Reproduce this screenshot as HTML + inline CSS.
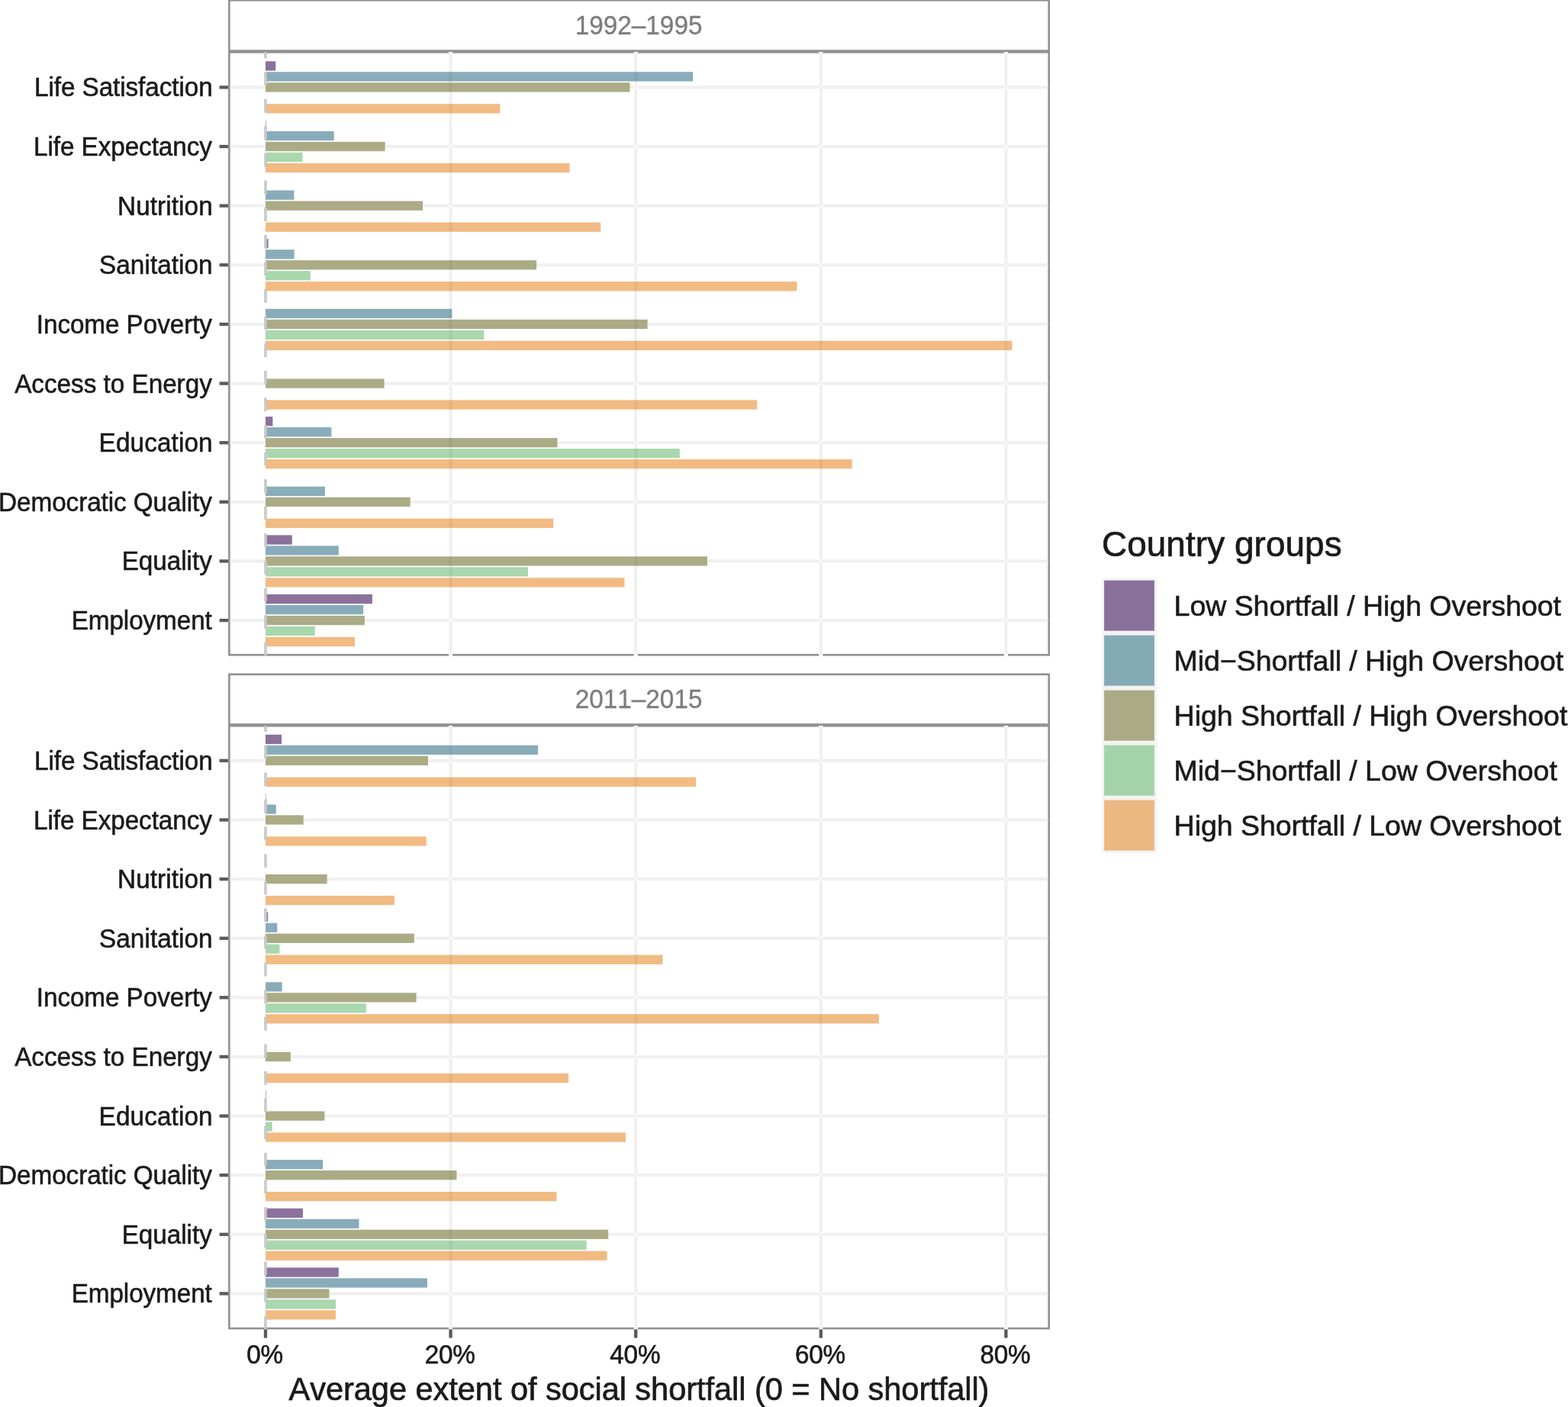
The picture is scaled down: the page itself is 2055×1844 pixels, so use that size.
<!DOCTYPE html>
<html lang="en"><head><meta charset="utf-8">
<title>Average extent of social shortfall by country group</title>
<style>
html,body{margin:0;padding:0;background:#fff;}
body{width:2055px;height:1844px;overflow:hidden;}
svg{display:block;}
text{font-family:"Liberation Sans", Arial, Helvetica, sans-serif;font-kerning:none;}
.ax{font-size:33.33px;fill:#1a1a1a;stroke:#1a1a1a;stroke-width:0.55px;letter-spacing:-0.1px;}
.st{font-size:33.33px;fill:#7d7d7d;stroke:#7d7d7d;stroke-width:0.3px;}
.at{font-size:41.67px;fill:#1a1a1a;stroke:#1a1a1a;stroke-width:0.65px;letter-spacing:-0.09px;}
.lt{font-size:45.83px;fill:#1a1a1a;stroke:#1a1a1a;stroke-width:0.7px;letter-spacing:0.1px;}
.ll{font-size:37.5px;fill:#1a1a1a;stroke:#1a1a1a;stroke-width:0.6px;letter-spacing:-0.04px;}
</style></head><body>
<svg width="2055" height="1844" viewBox="0 0 2055 1844">
<rect x="0" y="0" width="2055" height="1844" fill="#ffffff"/>
<g>
<rect x="300.40" y="68.40" width="1074.30" height="789.90" fill="#fff" stroke="#919191" stroke-width="2.6"/>
<rect x="588.10" y="68.10" width="5" height="3.4" fill="#fff"/>
<rect x="588.10" y="856.30" width="5" height="4" fill="#fff"/>
<rect x="830.70" y="68.10" width="5" height="3.4" fill="#fff"/>
<rect x="830.70" y="856.30" width="5" height="4" fill="#fff"/>
<rect x="1073.30" y="68.10" width="5" height="3.4" fill="#fff"/>
<rect x="1073.30" y="856.30" width="5" height="4" fill="#fff"/>
<rect x="1315.90" y="68.10" width="5" height="3.4" fill="#fff"/>
<rect x="1315.90" y="856.30" width="5" height="4" fill="#fff"/>
<rect x="301.70" y="112.30" width="1071.70" height="4.20" fill="#f0f0f0"/>
<rect x="301.70" y="189.93" width="1071.70" height="4.20" fill="#f0f0f0"/>
<rect x="301.70" y="267.56" width="1071.70" height="4.20" fill="#f0f0f0"/>
<rect x="301.70" y="345.19" width="1071.70" height="4.20" fill="#f0f0f0"/>
<rect x="301.70" y="422.82" width="1071.70" height="4.20" fill="#f0f0f0"/>
<rect x="301.70" y="500.45" width="1071.70" height="4.20" fill="#f0f0f0"/>
<rect x="301.70" y="578.08" width="1071.70" height="4.20" fill="#f0f0f0"/>
<rect x="301.70" y="655.71" width="1071.70" height="4.20" fill="#f0f0f0"/>
<rect x="301.70" y="733.34" width="1071.70" height="4.20" fill="#f0f0f0"/>
<rect x="301.70" y="810.97" width="1071.70" height="4.20" fill="#f0f0f0"/>
<rect x="588.50" y="69.70" width="4.20" height="787.30" fill="#f0f0f0"/>
<rect x="588.50" y="112.30" width="4.20" height="4.20" fill="#f7f7f7"/>
<rect x="588.50" y="189.93" width="4.20" height="4.20" fill="#f7f7f7"/>
<rect x="588.50" y="267.56" width="4.20" height="4.20" fill="#f7f7f7"/>
<rect x="588.50" y="345.19" width="4.20" height="4.20" fill="#f7f7f7"/>
<rect x="588.50" y="422.82" width="4.20" height="4.20" fill="#f7f7f7"/>
<rect x="588.50" y="500.45" width="4.20" height="4.20" fill="#f7f7f7"/>
<rect x="588.50" y="578.08" width="4.20" height="4.20" fill="#f7f7f7"/>
<rect x="588.50" y="655.71" width="4.20" height="4.20" fill="#f7f7f7"/>
<rect x="588.50" y="733.34" width="4.20" height="4.20" fill="#f7f7f7"/>
<rect x="588.50" y="810.97" width="4.20" height="4.20" fill="#f7f7f7"/>
<rect x="831.10" y="69.70" width="4.20" height="787.30" fill="#f0f0f0"/>
<rect x="831.10" y="112.30" width="4.20" height="4.20" fill="#f7f7f7"/>
<rect x="831.10" y="189.93" width="4.20" height="4.20" fill="#f7f7f7"/>
<rect x="831.10" y="267.56" width="4.20" height="4.20" fill="#f7f7f7"/>
<rect x="831.10" y="345.19" width="4.20" height="4.20" fill="#f7f7f7"/>
<rect x="831.10" y="422.82" width="4.20" height="4.20" fill="#f7f7f7"/>
<rect x="831.10" y="500.45" width="4.20" height="4.20" fill="#f7f7f7"/>
<rect x="831.10" y="578.08" width="4.20" height="4.20" fill="#f7f7f7"/>
<rect x="831.10" y="655.71" width="4.20" height="4.20" fill="#f7f7f7"/>
<rect x="831.10" y="733.34" width="4.20" height="4.20" fill="#f7f7f7"/>
<rect x="831.10" y="810.97" width="4.20" height="4.20" fill="#f7f7f7"/>
<rect x="1073.70" y="69.70" width="4.20" height="787.30" fill="#f0f0f0"/>
<rect x="1073.70" y="112.30" width="4.20" height="4.20" fill="#f7f7f7"/>
<rect x="1073.70" y="189.93" width="4.20" height="4.20" fill="#f7f7f7"/>
<rect x="1073.70" y="267.56" width="4.20" height="4.20" fill="#f7f7f7"/>
<rect x="1073.70" y="345.19" width="4.20" height="4.20" fill="#f7f7f7"/>
<rect x="1073.70" y="422.82" width="4.20" height="4.20" fill="#f7f7f7"/>
<rect x="1073.70" y="500.45" width="4.20" height="4.20" fill="#f7f7f7"/>
<rect x="1073.70" y="578.08" width="4.20" height="4.20" fill="#f7f7f7"/>
<rect x="1073.70" y="655.71" width="4.20" height="4.20" fill="#f7f7f7"/>
<rect x="1073.70" y="733.34" width="4.20" height="4.20" fill="#f7f7f7"/>
<rect x="1073.70" y="810.97" width="4.20" height="4.20" fill="#f7f7f7"/>
<rect x="1316.30" y="69.70" width="4.20" height="787.30" fill="#f0f0f0"/>
<rect x="1316.30" y="112.30" width="4.20" height="4.20" fill="#f7f7f7"/>
<rect x="1316.30" y="189.93" width="4.20" height="4.20" fill="#f7f7f7"/>
<rect x="1316.30" y="267.56" width="4.20" height="4.20" fill="#f7f7f7"/>
<rect x="1316.30" y="345.19" width="4.20" height="4.20" fill="#f7f7f7"/>
<rect x="1316.30" y="422.82" width="4.20" height="4.20" fill="#f7f7f7"/>
<rect x="1316.30" y="500.45" width="4.20" height="4.20" fill="#f7f7f7"/>
<rect x="1316.30" y="578.08" width="4.20" height="4.20" fill="#f7f7f7"/>
<rect x="1316.30" y="655.71" width="4.20" height="4.20" fill="#f7f7f7"/>
<rect x="1316.30" y="733.34" width="4.20" height="4.20" fill="#f7f7f7"/>
<rect x="1316.30" y="810.97" width="4.20" height="4.20" fill="#f7f7f7"/>
<rect x="348.00" y="80.31" width="13.30" height="12.30" fill="#8B719C"/>
<rect x="348.00" y="94.28" width="560.10" height="12.30" fill="#89ACBA"/>
<rect x="348.00" y="108.25" width="477.50" height="12.30" fill="#ABAB86"/>
<rect x="348.00" y="136.19" width="307.40" height="12.30" fill="#F1BB83"/>
<rect x="348.00" y="157.94" width="0.60" height="12.30" fill="#8B719C"/>
<rect x="348.00" y="171.91" width="89.70" height="12.30" fill="#89ACBA"/>
<rect x="348.00" y="185.88" width="156.60" height="12.30" fill="#ABAB86"/>
<rect x="348.00" y="199.85" width="48.40" height="12.30" fill="#A9D7AE"/>
<rect x="348.00" y="213.82" width="398.50" height="12.30" fill="#F1BB83"/>
<rect x="348.00" y="249.54" width="37.40" height="12.30" fill="#89ACBA"/>
<rect x="348.00" y="263.51" width="206.10" height="12.30" fill="#ABAB86"/>
<rect x="348.00" y="291.45" width="439.20" height="12.30" fill="#F1BB83"/>
<rect x="348.00" y="313.20" width="3.60" height="12.30" fill="#8B719C"/>
<rect x="348.00" y="327.17" width="37.60" height="12.30" fill="#89ACBA"/>
<rect x="348.00" y="341.14" width="355.10" height="12.30" fill="#ABAB86"/>
<rect x="348.00" y="355.11" width="58.90" height="12.30" fill="#A9D7AE"/>
<rect x="348.00" y="369.08" width="696.50" height="12.30" fill="#F1BB83"/>
<rect x="348.00" y="404.80" width="244.30" height="12.30" fill="#89ACBA"/>
<rect x="348.00" y="418.77" width="500.60" height="12.30" fill="#ABAB86"/>
<rect x="348.00" y="432.74" width="286.40" height="12.30" fill="#A9D7AE"/>
<rect x="348.00" y="446.71" width="978.50" height="12.30" fill="#F1BB83"/>
<rect x="348.00" y="496.40" width="155.60" height="12.30" fill="#ABAB86"/>
<rect x="348.00" y="524.34" width="644.30" height="12.30" fill="#F1BB83"/>
<rect x="348.00" y="546.09" width="9.40" height="12.30" fill="#8B719C"/>
<rect x="348.00" y="560.06" width="86.40" height="12.30" fill="#89ACBA"/>
<rect x="348.00" y="574.03" width="382.50" height="12.30" fill="#ABAB86"/>
<rect x="348.00" y="588.00" width="542.80" height="12.30" fill="#A9D7AE"/>
<rect x="348.00" y="601.97" width="768.70" height="12.30" fill="#F1BB83"/>
<rect x="348.00" y="637.69" width="77.90" height="12.30" fill="#89ACBA"/>
<rect x="348.00" y="651.66" width="189.70" height="12.30" fill="#ABAB86"/>
<rect x="348.00" y="679.60" width="377.40" height="12.30" fill="#F1BB83"/>
<rect x="348.00" y="701.35" width="34.80" height="12.30" fill="#8B719C"/>
<rect x="348.00" y="715.32" width="95.80" height="12.30" fill="#89ACBA"/>
<rect x="348.00" y="729.29" width="578.90" height="12.30" fill="#ABAB86"/>
<rect x="348.00" y="743.26" width="344.00" height="12.30" fill="#A9D7AE"/>
<rect x="348.00" y="757.23" width="470.50" height="12.30" fill="#F1BB83"/>
<rect x="348.00" y="778.98" width="139.90" height="12.30" fill="#8B719C"/>
<rect x="348.00" y="792.95" width="128.20" height="12.30" fill="#89ACBA"/>
<rect x="348.00" y="806.92" width="129.90" height="12.30" fill="#ABAB86"/>
<rect x="348.00" y="820.89" width="64.80" height="12.30" fill="#A9D7AE"/>
<rect x="348.00" y="834.86" width="116.90" height="12.30" fill="#F1BB83"/>
<rect x="588.50" y="94.28" width="4.20" height="12.30" fill="#000" fill-opacity="0.04"/>
<rect x="831.10" y="94.28" width="4.20" height="12.30" fill="#000" fill-opacity="0.04"/>
<rect x="588.50" y="108.25" width="4.20" height="12.30" fill="#000" fill-opacity="0.04"/>
<rect x="588.50" y="136.19" width="4.20" height="12.30" fill="#000" fill-opacity="0.04"/>
<rect x="588.50" y="213.82" width="4.20" height="12.30" fill="#000" fill-opacity="0.04"/>
<rect x="588.50" y="291.45" width="4.20" height="12.30" fill="#000" fill-opacity="0.04"/>
<rect x="588.50" y="341.14" width="4.20" height="12.30" fill="#000" fill-opacity="0.04"/>
<rect x="588.50" y="369.08" width="4.20" height="12.30" fill="#000" fill-opacity="0.04"/>
<rect x="831.10" y="369.08" width="4.20" height="12.30" fill="#000" fill-opacity="0.04"/>
<rect x="588.50" y="404.80" width="3.80" height="12.30" fill="#000" fill-opacity="0.04"/>
<rect x="588.50" y="418.77" width="4.20" height="12.30" fill="#000" fill-opacity="0.04"/>
<rect x="831.10" y="418.77" width="4.20" height="12.30" fill="#000" fill-opacity="0.04"/>
<rect x="588.50" y="432.74" width="4.20" height="12.30" fill="#000" fill-opacity="0.04"/>
<rect x="588.50" y="446.71" width="4.20" height="12.30" fill="#000" fill-opacity="0.04"/>
<rect x="831.10" y="446.71" width="4.20" height="12.30" fill="#000" fill-opacity="0.04"/>
<rect x="1073.70" y="446.71" width="4.20" height="12.30" fill="#000" fill-opacity="0.04"/>
<rect x="1316.30" y="446.71" width="4.20" height="12.30" fill="#000" fill-opacity="0.04"/>
<rect x="588.50" y="524.34" width="4.20" height="12.30" fill="#000" fill-opacity="0.04"/>
<rect x="831.10" y="524.34" width="4.20" height="12.30" fill="#000" fill-opacity="0.04"/>
<rect x="588.50" y="574.03" width="4.20" height="12.30" fill="#000" fill-opacity="0.04"/>
<rect x="588.50" y="588.00" width="4.20" height="12.30" fill="#000" fill-opacity="0.04"/>
<rect x="831.10" y="588.00" width="4.20" height="12.30" fill="#000" fill-opacity="0.04"/>
<rect x="588.50" y="601.97" width="4.20" height="12.30" fill="#000" fill-opacity="0.04"/>
<rect x="831.10" y="601.97" width="4.20" height="12.30" fill="#000" fill-opacity="0.04"/>
<rect x="1073.70" y="601.97" width="4.20" height="12.30" fill="#000" fill-opacity="0.04"/>
<rect x="588.50" y="679.60" width="4.20" height="12.30" fill="#000" fill-opacity="0.04"/>
<rect x="588.50" y="729.29" width="4.20" height="12.30" fill="#000" fill-opacity="0.04"/>
<rect x="831.10" y="729.29" width="4.20" height="12.30" fill="#000" fill-opacity="0.04"/>
<rect x="588.50" y="743.26" width="4.20" height="12.30" fill="#000" fill-opacity="0.04"/>
<rect x="588.50" y="757.23" width="4.20" height="12.30" fill="#000" fill-opacity="0.04"/>
<line x1="348.00" y1="859.50" x2="348.00" y2="68.00" stroke="#c8c8c8" stroke-opacity="0.9" stroke-width="3.9" stroke-dasharray="17.80 17.80"/>
<rect x="300.40" y="0.30" width="1074.30" height="66.30" fill="#fff" stroke="#919191" stroke-width="2.6"/>
<text class="st" transform="translate(837.05 44.90) scale(1 1.030)" text-anchor="middle">1992–1995</text>
<rect x="287.60" y="112.25" width="11.50" height="4.3" fill="#5a5a5a"/>
<text class="ax" transform="translate(278.60 126.40) scale(1 1.030)" text-anchor="end" style="letter-spacing:-0.10px">Life Satisfaction</text>
<rect x="287.60" y="189.88" width="11.50" height="4.3" fill="#5a5a5a"/>
<text class="ax" transform="translate(277.80 204.03) scale(1 1.030)" text-anchor="end" style="letter-spacing:-0.10px">Life Expectancy</text>
<rect x="287.60" y="267.51" width="11.50" height="4.3" fill="#5a5a5a"/>
<text class="ax" transform="translate(278.80 281.66) scale(1 1.030)" text-anchor="end" style="letter-spacing:0.08px">Nutrition</text>
<rect x="287.60" y="345.14" width="11.50" height="4.3" fill="#5a5a5a"/>
<text class="ax" transform="translate(278.70 359.29) scale(1 1.030)" text-anchor="end" style="letter-spacing:0.05px">Sanitation</text>
<rect x="287.60" y="422.77" width="11.50" height="4.3" fill="#5a5a5a"/>
<text class="ax" transform="translate(277.90 436.92) scale(1 1.030)" text-anchor="end" style="letter-spacing:-0.10px">Income Poverty</text>
<rect x="287.60" y="500.40" width="11.50" height="4.3" fill="#5a5a5a"/>
<text class="ax" transform="translate(277.80 514.55) scale(1 1.030)" text-anchor="end" style="letter-spacing:-0.04px">Access to Energy</text>
<rect x="287.60" y="578.03" width="11.50" height="4.3" fill="#5a5a5a"/>
<text class="ax" transform="translate(278.70 592.18) scale(1 1.030)" text-anchor="end" style="letter-spacing:0.10px">Education</text>
<rect x="287.60" y="655.66" width="11.50" height="4.3" fill="#5a5a5a"/>
<text class="ax" transform="translate(277.80 669.81) scale(1 1.030)" text-anchor="end" style="letter-spacing:-0.10px">Democratic Quality</text>
<rect x="287.60" y="733.29" width="11.50" height="4.3" fill="#5a5a5a"/>
<text class="ax" transform="translate(277.80 747.44) scale(1 1.030)" text-anchor="end" style="letter-spacing:-0.05px">Equality</text>
<rect x="287.60" y="810.92" width="11.50" height="4.3" fill="#5a5a5a"/>
<text class="ax" transform="translate(277.70 825.07) scale(1 1.030)" text-anchor="end" style="letter-spacing:-0.12px">Employment</text>
</g>
<g>
<rect x="300.40" y="951.30" width="1074.30" height="789.70" fill="#fff" stroke="#919191" stroke-width="2.6"/>
<rect x="588.10" y="951.00" width="5" height="3.4" fill="#fff"/>
<rect x="588.10" y="1739.00" width="5" height="4" fill="#fff"/>
<rect x="830.70" y="951.00" width="5" height="3.4" fill="#fff"/>
<rect x="830.70" y="1739.00" width="5" height="4" fill="#fff"/>
<rect x="1073.30" y="951.00" width="5" height="3.4" fill="#fff"/>
<rect x="1073.30" y="1739.00" width="5" height="4" fill="#fff"/>
<rect x="1315.90" y="951.00" width="5" height="3.4" fill="#fff"/>
<rect x="1315.90" y="1739.00" width="5" height="4" fill="#fff"/>
<rect x="301.70" y="994.80" width="1071.70" height="4.20" fill="#f0f0f0"/>
<rect x="301.70" y="1072.41" width="1071.70" height="4.20" fill="#f0f0f0"/>
<rect x="301.70" y="1150.02" width="1071.70" height="4.20" fill="#f0f0f0"/>
<rect x="301.70" y="1227.63" width="1071.70" height="4.20" fill="#f0f0f0"/>
<rect x="301.70" y="1305.24" width="1071.70" height="4.20" fill="#f0f0f0"/>
<rect x="301.70" y="1382.85" width="1071.70" height="4.20" fill="#f0f0f0"/>
<rect x="301.70" y="1460.46" width="1071.70" height="4.20" fill="#f0f0f0"/>
<rect x="301.70" y="1538.07" width="1071.70" height="4.20" fill="#f0f0f0"/>
<rect x="301.70" y="1615.68" width="1071.70" height="4.20" fill="#f0f0f0"/>
<rect x="301.70" y="1693.29" width="1071.70" height="4.20" fill="#f0f0f0"/>
<rect x="588.50" y="952.60" width="4.20" height="787.10" fill="#f0f0f0"/>
<rect x="588.50" y="994.80" width="4.20" height="4.20" fill="#f7f7f7"/>
<rect x="588.50" y="1072.41" width="4.20" height="4.20" fill="#f7f7f7"/>
<rect x="588.50" y="1150.02" width="4.20" height="4.20" fill="#f7f7f7"/>
<rect x="588.50" y="1227.63" width="4.20" height="4.20" fill="#f7f7f7"/>
<rect x="588.50" y="1305.24" width="4.20" height="4.20" fill="#f7f7f7"/>
<rect x="588.50" y="1382.85" width="4.20" height="4.20" fill="#f7f7f7"/>
<rect x="588.50" y="1460.46" width="4.20" height="4.20" fill="#f7f7f7"/>
<rect x="588.50" y="1538.07" width="4.20" height="4.20" fill="#f7f7f7"/>
<rect x="588.50" y="1615.68" width="4.20" height="4.20" fill="#f7f7f7"/>
<rect x="588.50" y="1693.29" width="4.20" height="4.20" fill="#f7f7f7"/>
<rect x="831.10" y="952.60" width="4.20" height="787.10" fill="#f0f0f0"/>
<rect x="831.10" y="994.80" width="4.20" height="4.20" fill="#f7f7f7"/>
<rect x="831.10" y="1072.41" width="4.20" height="4.20" fill="#f7f7f7"/>
<rect x="831.10" y="1150.02" width="4.20" height="4.20" fill="#f7f7f7"/>
<rect x="831.10" y="1227.63" width="4.20" height="4.20" fill="#f7f7f7"/>
<rect x="831.10" y="1305.24" width="4.20" height="4.20" fill="#f7f7f7"/>
<rect x="831.10" y="1382.85" width="4.20" height="4.20" fill="#f7f7f7"/>
<rect x="831.10" y="1460.46" width="4.20" height="4.20" fill="#f7f7f7"/>
<rect x="831.10" y="1538.07" width="4.20" height="4.20" fill="#f7f7f7"/>
<rect x="831.10" y="1615.68" width="4.20" height="4.20" fill="#f7f7f7"/>
<rect x="831.10" y="1693.29" width="4.20" height="4.20" fill="#f7f7f7"/>
<rect x="1073.70" y="952.60" width="4.20" height="787.10" fill="#f0f0f0"/>
<rect x="1073.70" y="994.80" width="4.20" height="4.20" fill="#f7f7f7"/>
<rect x="1073.70" y="1072.41" width="4.20" height="4.20" fill="#f7f7f7"/>
<rect x="1073.70" y="1150.02" width="4.20" height="4.20" fill="#f7f7f7"/>
<rect x="1073.70" y="1227.63" width="4.20" height="4.20" fill="#f7f7f7"/>
<rect x="1073.70" y="1305.24" width="4.20" height="4.20" fill="#f7f7f7"/>
<rect x="1073.70" y="1382.85" width="4.20" height="4.20" fill="#f7f7f7"/>
<rect x="1073.70" y="1460.46" width="4.20" height="4.20" fill="#f7f7f7"/>
<rect x="1073.70" y="1538.07" width="4.20" height="4.20" fill="#f7f7f7"/>
<rect x="1073.70" y="1615.68" width="4.20" height="4.20" fill="#f7f7f7"/>
<rect x="1073.70" y="1693.29" width="4.20" height="4.20" fill="#f7f7f7"/>
<rect x="1316.30" y="952.60" width="4.20" height="787.10" fill="#f0f0f0"/>
<rect x="1316.30" y="994.80" width="4.20" height="4.20" fill="#f7f7f7"/>
<rect x="1316.30" y="1072.41" width="4.20" height="4.20" fill="#f7f7f7"/>
<rect x="1316.30" y="1150.02" width="4.20" height="4.20" fill="#f7f7f7"/>
<rect x="1316.30" y="1227.63" width="4.20" height="4.20" fill="#f7f7f7"/>
<rect x="1316.30" y="1305.24" width="4.20" height="4.20" fill="#f7f7f7"/>
<rect x="1316.30" y="1382.85" width="4.20" height="4.20" fill="#f7f7f7"/>
<rect x="1316.30" y="1460.46" width="4.20" height="4.20" fill="#f7f7f7"/>
<rect x="1316.30" y="1538.07" width="4.20" height="4.20" fill="#f7f7f7"/>
<rect x="1316.30" y="1615.68" width="4.20" height="4.20" fill="#f7f7f7"/>
<rect x="1316.30" y="1693.29" width="4.20" height="4.20" fill="#f7f7f7"/>
<rect x="348.00" y="962.81" width="21.10" height="12.30" fill="#8B719C"/>
<rect x="348.00" y="976.78" width="357.10" height="12.30" fill="#89ACBA"/>
<rect x="348.00" y="990.75" width="213.00" height="12.30" fill="#ABAB86"/>
<rect x="348.00" y="1018.69" width="564.10" height="12.30" fill="#F1BB83"/>
<rect x="348.00" y="1040.42" width="0.50" height="12.30" fill="#8B719C"/>
<rect x="348.00" y="1054.39" width="13.80" height="12.30" fill="#89ACBA"/>
<rect x="348.00" y="1068.36" width="49.70" height="12.30" fill="#ABAB86"/>
<rect x="348.00" y="1096.30" width="210.70" height="12.30" fill="#F1BB83"/>
<rect x="348.00" y="1145.97" width="80.70" height="12.30" fill="#ABAB86"/>
<rect x="348.00" y="1173.91" width="168.90" height="12.30" fill="#F1BB83"/>
<rect x="348.00" y="1195.64" width="3.20" height="12.30" fill="#8B719C"/>
<rect x="348.00" y="1209.61" width="15.30" height="12.30" fill="#89ACBA"/>
<rect x="348.00" y="1223.58" width="194.80" height="12.30" fill="#ABAB86"/>
<rect x="348.00" y="1237.55" width="18.40" height="12.30" fill="#A9D7AE"/>
<rect x="348.00" y="1251.52" width="520.50" height="12.30" fill="#F1BB83"/>
<rect x="348.00" y="1287.22" width="21.70" height="12.30" fill="#89ACBA"/>
<rect x="348.00" y="1301.19" width="197.60" height="12.30" fill="#ABAB86"/>
<rect x="348.00" y="1315.16" width="132.00" height="12.30" fill="#A9D7AE"/>
<rect x="348.00" y="1329.13" width="803.80" height="12.30" fill="#F1BB83"/>
<rect x="348.00" y="1378.80" width="32.80" height="12.30" fill="#ABAB86"/>
<rect x="348.00" y="1406.74" width="397.10" height="12.30" fill="#F1BB83"/>
<rect x="348.00" y="1428.47" width="0.60" height="12.30" fill="#8B719C"/>
<rect x="348.00" y="1456.41" width="77.40" height="12.30" fill="#ABAB86"/>
<rect x="348.00" y="1470.38" width="8.70" height="12.30" fill="#A9D7AE"/>
<rect x="348.00" y="1484.35" width="472.00" height="12.30" fill="#F1BB83"/>
<rect x="348.00" y="1520.05" width="75.10" height="12.30" fill="#89ACBA"/>
<rect x="348.00" y="1534.02" width="250.50" height="12.30" fill="#ABAB86"/>
<rect x="348.00" y="1561.96" width="381.50" height="12.30" fill="#F1BB83"/>
<rect x="348.00" y="1583.69" width="48.90" height="12.30" fill="#8B719C"/>
<rect x="348.00" y="1597.66" width="122.50" height="12.30" fill="#89ACBA"/>
<rect x="348.00" y="1611.63" width="449.20" height="12.30" fill="#ABAB86"/>
<rect x="348.00" y="1625.60" width="420.70" height="12.30" fill="#A9D7AE"/>
<rect x="348.00" y="1639.57" width="447.60" height="12.30" fill="#F1BB83"/>
<rect x="348.00" y="1661.30" width="95.80" height="12.30" fill="#8B719C"/>
<rect x="348.00" y="1675.27" width="212.00" height="12.30" fill="#89ACBA"/>
<rect x="348.00" y="1689.24" width="83.50" height="12.30" fill="#ABAB86"/>
<rect x="348.00" y="1703.21" width="92.00" height="12.30" fill="#A9D7AE"/>
<rect x="348.00" y="1717.18" width="92.00" height="12.30" fill="#F1BB83"/>
<rect x="588.50" y="976.78" width="4.20" height="12.30" fill="#000" fill-opacity="0.04"/>
<rect x="588.50" y="1018.69" width="4.20" height="12.30" fill="#000" fill-opacity="0.04"/>
<rect x="831.10" y="1018.69" width="4.20" height="12.30" fill="#000" fill-opacity="0.04"/>
<rect x="588.50" y="1251.52" width="4.20" height="12.30" fill="#000" fill-opacity="0.04"/>
<rect x="831.10" y="1251.52" width="4.20" height="12.30" fill="#000" fill-opacity="0.04"/>
<rect x="588.50" y="1329.13" width="4.20" height="12.30" fill="#000" fill-opacity="0.04"/>
<rect x="831.10" y="1329.13" width="4.20" height="12.30" fill="#000" fill-opacity="0.04"/>
<rect x="1073.70" y="1329.13" width="4.20" height="12.30" fill="#000" fill-opacity="0.04"/>
<rect x="588.50" y="1406.74" width="4.20" height="12.30" fill="#000" fill-opacity="0.04"/>
<rect x="588.50" y="1484.35" width="4.20" height="12.30" fill="#000" fill-opacity="0.04"/>
<rect x="588.50" y="1534.02" width="4.20" height="12.30" fill="#000" fill-opacity="0.04"/>
<rect x="588.50" y="1561.96" width="4.20" height="12.30" fill="#000" fill-opacity="0.04"/>
<rect x="588.50" y="1611.63" width="4.20" height="12.30" fill="#000" fill-opacity="0.04"/>
<rect x="588.50" y="1625.60" width="4.20" height="12.30" fill="#000" fill-opacity="0.04"/>
<rect x="588.50" y="1639.57" width="4.20" height="12.30" fill="#000" fill-opacity="0.04"/>
<line x1="348.00" y1="1742.20" x2="348.00" y2="950.90" stroke="#c8c8c8" stroke-opacity="0.9" stroke-width="3.9" stroke-dasharray="17.80 17.80"/>
<rect x="300.40" y="883.80" width="1074.30" height="65.70" fill="#fff" stroke="#919191" stroke-width="2.6"/>
<text class="st" transform="translate(837.05 928.40) scale(1 1.030)" text-anchor="middle">2011–2015</text>
<rect x="287.60" y="994.75" width="11.50" height="4.3" fill="#5a5a5a"/>
<text class="ax" transform="translate(278.60 1008.90) scale(1 1.030)" text-anchor="end" style="letter-spacing:-0.10px">Life Satisfaction</text>
<rect x="287.60" y="1072.36" width="11.50" height="4.3" fill="#5a5a5a"/>
<text class="ax" transform="translate(277.80 1086.51) scale(1 1.030)" text-anchor="end" style="letter-spacing:-0.10px">Life Expectancy</text>
<rect x="287.60" y="1149.97" width="11.50" height="4.3" fill="#5a5a5a"/>
<text class="ax" transform="translate(278.80 1164.12) scale(1 1.030)" text-anchor="end" style="letter-spacing:0.08px">Nutrition</text>
<rect x="287.60" y="1227.58" width="11.50" height="4.3" fill="#5a5a5a"/>
<text class="ax" transform="translate(278.70 1241.73) scale(1 1.030)" text-anchor="end" style="letter-spacing:0.05px">Sanitation</text>
<rect x="287.60" y="1305.19" width="11.50" height="4.3" fill="#5a5a5a"/>
<text class="ax" transform="translate(277.90 1319.34) scale(1 1.030)" text-anchor="end" style="letter-spacing:-0.10px">Income Poverty</text>
<rect x="287.60" y="1382.80" width="11.50" height="4.3" fill="#5a5a5a"/>
<text class="ax" transform="translate(277.80 1396.95) scale(1 1.030)" text-anchor="end" style="letter-spacing:-0.04px">Access to Energy</text>
<rect x="287.60" y="1460.41" width="11.50" height="4.3" fill="#5a5a5a"/>
<text class="ax" transform="translate(278.70 1474.56) scale(1 1.030)" text-anchor="end" style="letter-spacing:0.10px">Education</text>
<rect x="287.60" y="1538.02" width="11.50" height="4.3" fill="#5a5a5a"/>
<text class="ax" transform="translate(277.80 1552.17) scale(1 1.030)" text-anchor="end" style="letter-spacing:-0.10px">Democratic Quality</text>
<rect x="287.60" y="1615.63" width="11.50" height="4.3" fill="#5a5a5a"/>
<text class="ax" transform="translate(277.80 1629.78) scale(1 1.030)" text-anchor="end" style="letter-spacing:-0.05px">Equality</text>
<rect x="287.60" y="1693.24" width="11.50" height="4.3" fill="#5a5a5a"/>
<text class="ax" transform="translate(277.70 1707.39) scale(1 1.030)" text-anchor="end" style="letter-spacing:-0.12px">Employment</text>
</g>
<g>
<rect x="345.85" y="1742.30" width="4.3" height="11.20" fill="#5a5a5a"/>
<text class="ax" transform="translate(347.10 1786.80) scale(1 1.045)" text-anchor="middle" style="letter-spacing:-0.25px">0%</text>
<rect x="588.45" y="1742.30" width="4.3" height="11.20" fill="#5a5a5a"/>
<text class="ax" transform="translate(589.70 1786.80) scale(1 1.045)" text-anchor="middle" style="letter-spacing:-0.25px">20%</text>
<rect x="831.05" y="1742.30" width="4.3" height="11.20" fill="#5a5a5a"/>
<text class="ax" transform="translate(832.30 1786.80) scale(1 1.045)" text-anchor="middle" style="letter-spacing:-0.25px">40%</text>
<rect x="1073.65" y="1742.30" width="4.3" height="11.20" fill="#5a5a5a"/>
<text class="ax" transform="translate(1074.90 1786.80) scale(1 1.045)" text-anchor="middle" style="letter-spacing:-0.25px">60%</text>
<rect x="1316.25" y="1742.30" width="4.3" height="11.20" fill="#5a5a5a"/>
<text class="ax" transform="translate(1317.50 1786.80) scale(1 1.045)" text-anchor="middle" style="letter-spacing:-0.25px">80%</text>
<text class="at" transform="translate(837.40 1835.00) scale(1 1.015)" text-anchor="middle">Average extent of social shortfall (0 = No shortfall)</text>
</g>
<g>
<text class="lt" x="1444.00" y="728.70">Country groups</text>
<rect x="1444.2" y="757.70" width="71.6" height="72" fill="#f2f2f2"/>
<rect x="1447.1" y="760.70" width="65.8" height="66" fill="#89709B"/>
<text class="ll" x="1538.60" y="807.30">Low Shortfall / High Overshoot</text>
<rect x="1444.2" y="829.70" width="71.6" height="72" fill="#f2f2f2"/>
<rect x="1447.1" y="832.70" width="65.8" height="66" fill="#84AAB3"/>
<text class="ll" x="1538.60" y="879.30">Mid−Shortfall / High Overshoot</text>
<rect x="1444.2" y="901.70" width="71.6" height="72" fill="#f2f2f2"/>
<rect x="1447.1" y="904.70" width="65.8" height="66" fill="#ABAA86"/>
<text class="ll" x="1538.60" y="951.30">High Shortfall / High Overshoot</text>
<rect x="1444.2" y="973.70" width="71.6" height="72" fill="#f2f2f2"/>
<rect x="1447.1" y="976.70" width="65.8" height="66" fill="#A5D3A9"/>
<text class="ll" x="1538.60" y="1023.30">Mid−Shortfall / Low Overshoot</text>
<rect x="1444.2" y="1045.70" width="71.6" height="72" fill="#f2f2f2"/>
<rect x="1447.1" y="1048.70" width="65.8" height="66" fill="#ECB882"/>
<text class="ll" x="1538.60" y="1095.30">High Shortfall / Low Overshoot</text>
</g>
</svg>
</body></html>
